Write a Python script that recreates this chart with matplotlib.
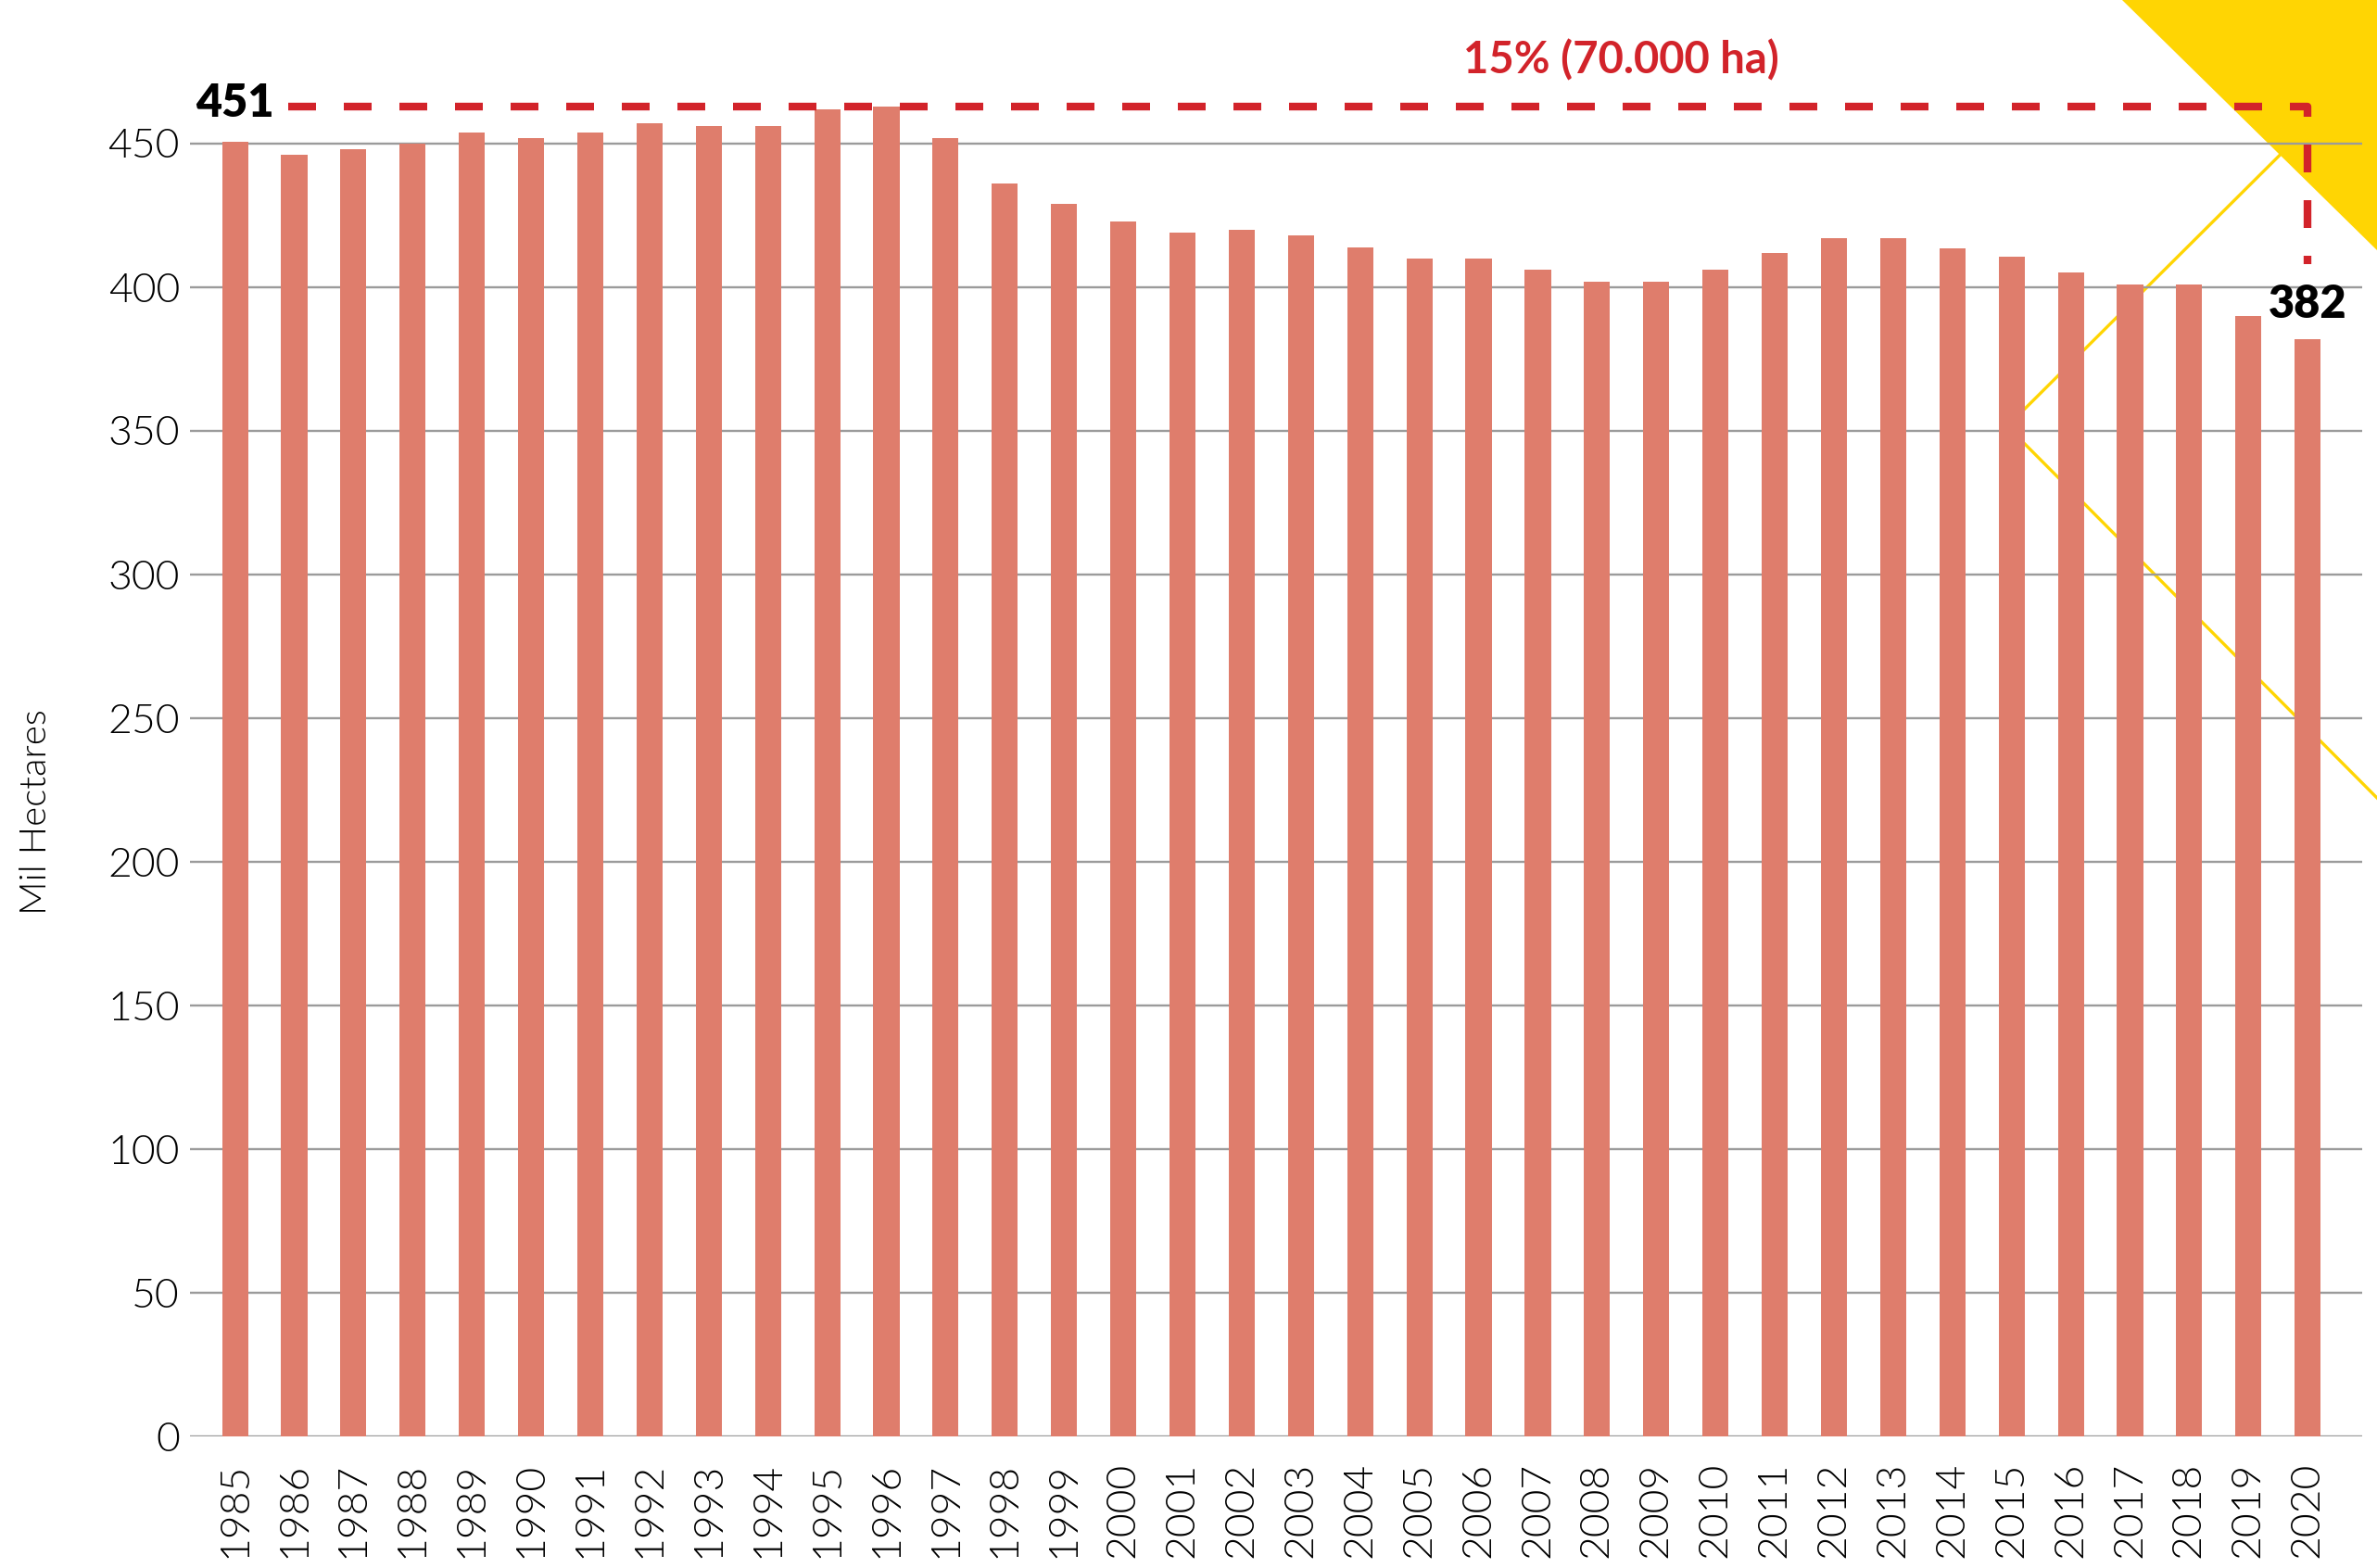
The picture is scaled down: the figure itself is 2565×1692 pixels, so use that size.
"""
Superficie en mil hectáreas, 1985-2020 - recreación del gráfico de barras
"""
import numpy as np
import matplotlib
matplotlib.use("Agg")
import matplotlib.pyplot as plt
from matplotlib import font_manager
from matplotlib.lines import Line2D
from matplotlib.patches import Polygon

years = list(range(1985, 2021))
hectares = [450.5, 446, 448, 450, 454, 452, 454, 457, 456, 456,
            462, 463, 452, 436, 429, 423, 419, 420, 418, 414,
            410, 410, 406, 402, 402, 406, 412, 417, 417, 413.5,
            410.5, 405, 401, 401, 390, 382]
y_ticks = [0, 50, 100, 150, 200, 250, 300, 350, 400, 450]
start_label = "451"
end_label = "382"
drop_label = "15% (70.000 ha)"

BAR = "#DF7D6C"
RED = "#D2232A"
YELLOW = "#FFD503"
GRID = "#9B9B9B"

plt.rcParams['font.family'] = ['Lato', 'DejaVu Sans']

# thin font for ticks: look for the Lato Light file itself
light = None
for f in font_manager.findSystemFonts():
    if f.split("/")[-1].lower() in ("lato-light.ttf", "lato-light.otf"):
        light = font_manager.FontProperties(fname=f)
        break
if light is None:
    light = font_manager.FontProperties(family="Lato", weight="normal")

W, H = 2565, 1692
fig = plt.figure(figsize=(W / 100, H / 100), dpi=100, facecolor="white")
ax = fig.add_axes([205 / W, 1 - 1550 / H, (2549 - 205) / W, 1550 / H])
ax.set_facecolor("none")

x = np.arange(len(years))

# decorative yellow corner (figure coords, behind everything)
tri = Polygon([(2290 / W, 1.0), (1.0, 1.0), (1.0, 1 - 270 / H)],
              closed=True, transform=fig.transFigure, facecolor=YELLOW,
              edgecolor="none", zorder=0.2, clip_on=False)
ax.add_patch(tri)
vx, vy = 2166 / W, 1 - 460 / H
for ey in (1 - 63 / H, 1 - 861 / H):
    ax.add_line(Line2D([vx, 1.0], [vy, ey], transform=fig.transFigure,
                       color=YELLOW, lw=2.4, zorder=0.3, clip_on=False))

ax.bar(x, hectares, width=0.44, color=BAR, zorder=2)

ax.set_xlim(-0.76, 35.92)
ax.set_ylim(0, 500)
ax.set_yticks(y_ticks)
ax.set_xticks(x)
ax.set_xticklabels([str(y) for y in years], rotation=90)
ax.tick_params(axis="both", length=0, colors="black")
ax.tick_params(axis="y", pad=8)
ax.tick_params(axis="x", pad=20)
for lab in ax.get_xticklabels() + ax.get_yticklabels():
    lab.set_fontproperties(light)
    lab.set_fontsize(32)
    lab.set_color("black")

ax.grid(axis="y", color=GRID, lw=1.7, zorder=1)
ax.set_axisbelow(True)
for s in ax.spines.values():
    s.set_visible(False)

ax.set_ylabel("Mil Hectares", fontproperties=light, fontsize=29, color="black")
ax.yaxis.set_label_coords(-0.063, 0.435)

# red dashed annotation: peak level across to 2020, then down
peak = max(hectares)
ax.plot([0.9, x[-1], x[-1]], [peak, peak, hectares[-1] + 26],
        color=RED, lw=6, dashes=(3.6, 3.6), solid_capstyle="butt",
        dash_capstyle="butt", zorder=4)

ax.text(0, 464, start_label, ha="center", va="center", fontsize=35,
        fontweight="heavy", color="black", zorder=5)
ax.text(x[-1], 394, end_label, ha="center", va="center", fontsize=35,
        fontweight="heavy", color="black", zorder=5)
ax.text(23.4, 479, drop_label, ha="center", va="center", fontsize=34,
        fontweight="bold", color=RED, zorder=5)

fig.savefig("out.png", dpi=100, facecolor="white")
plt.close(fig)
